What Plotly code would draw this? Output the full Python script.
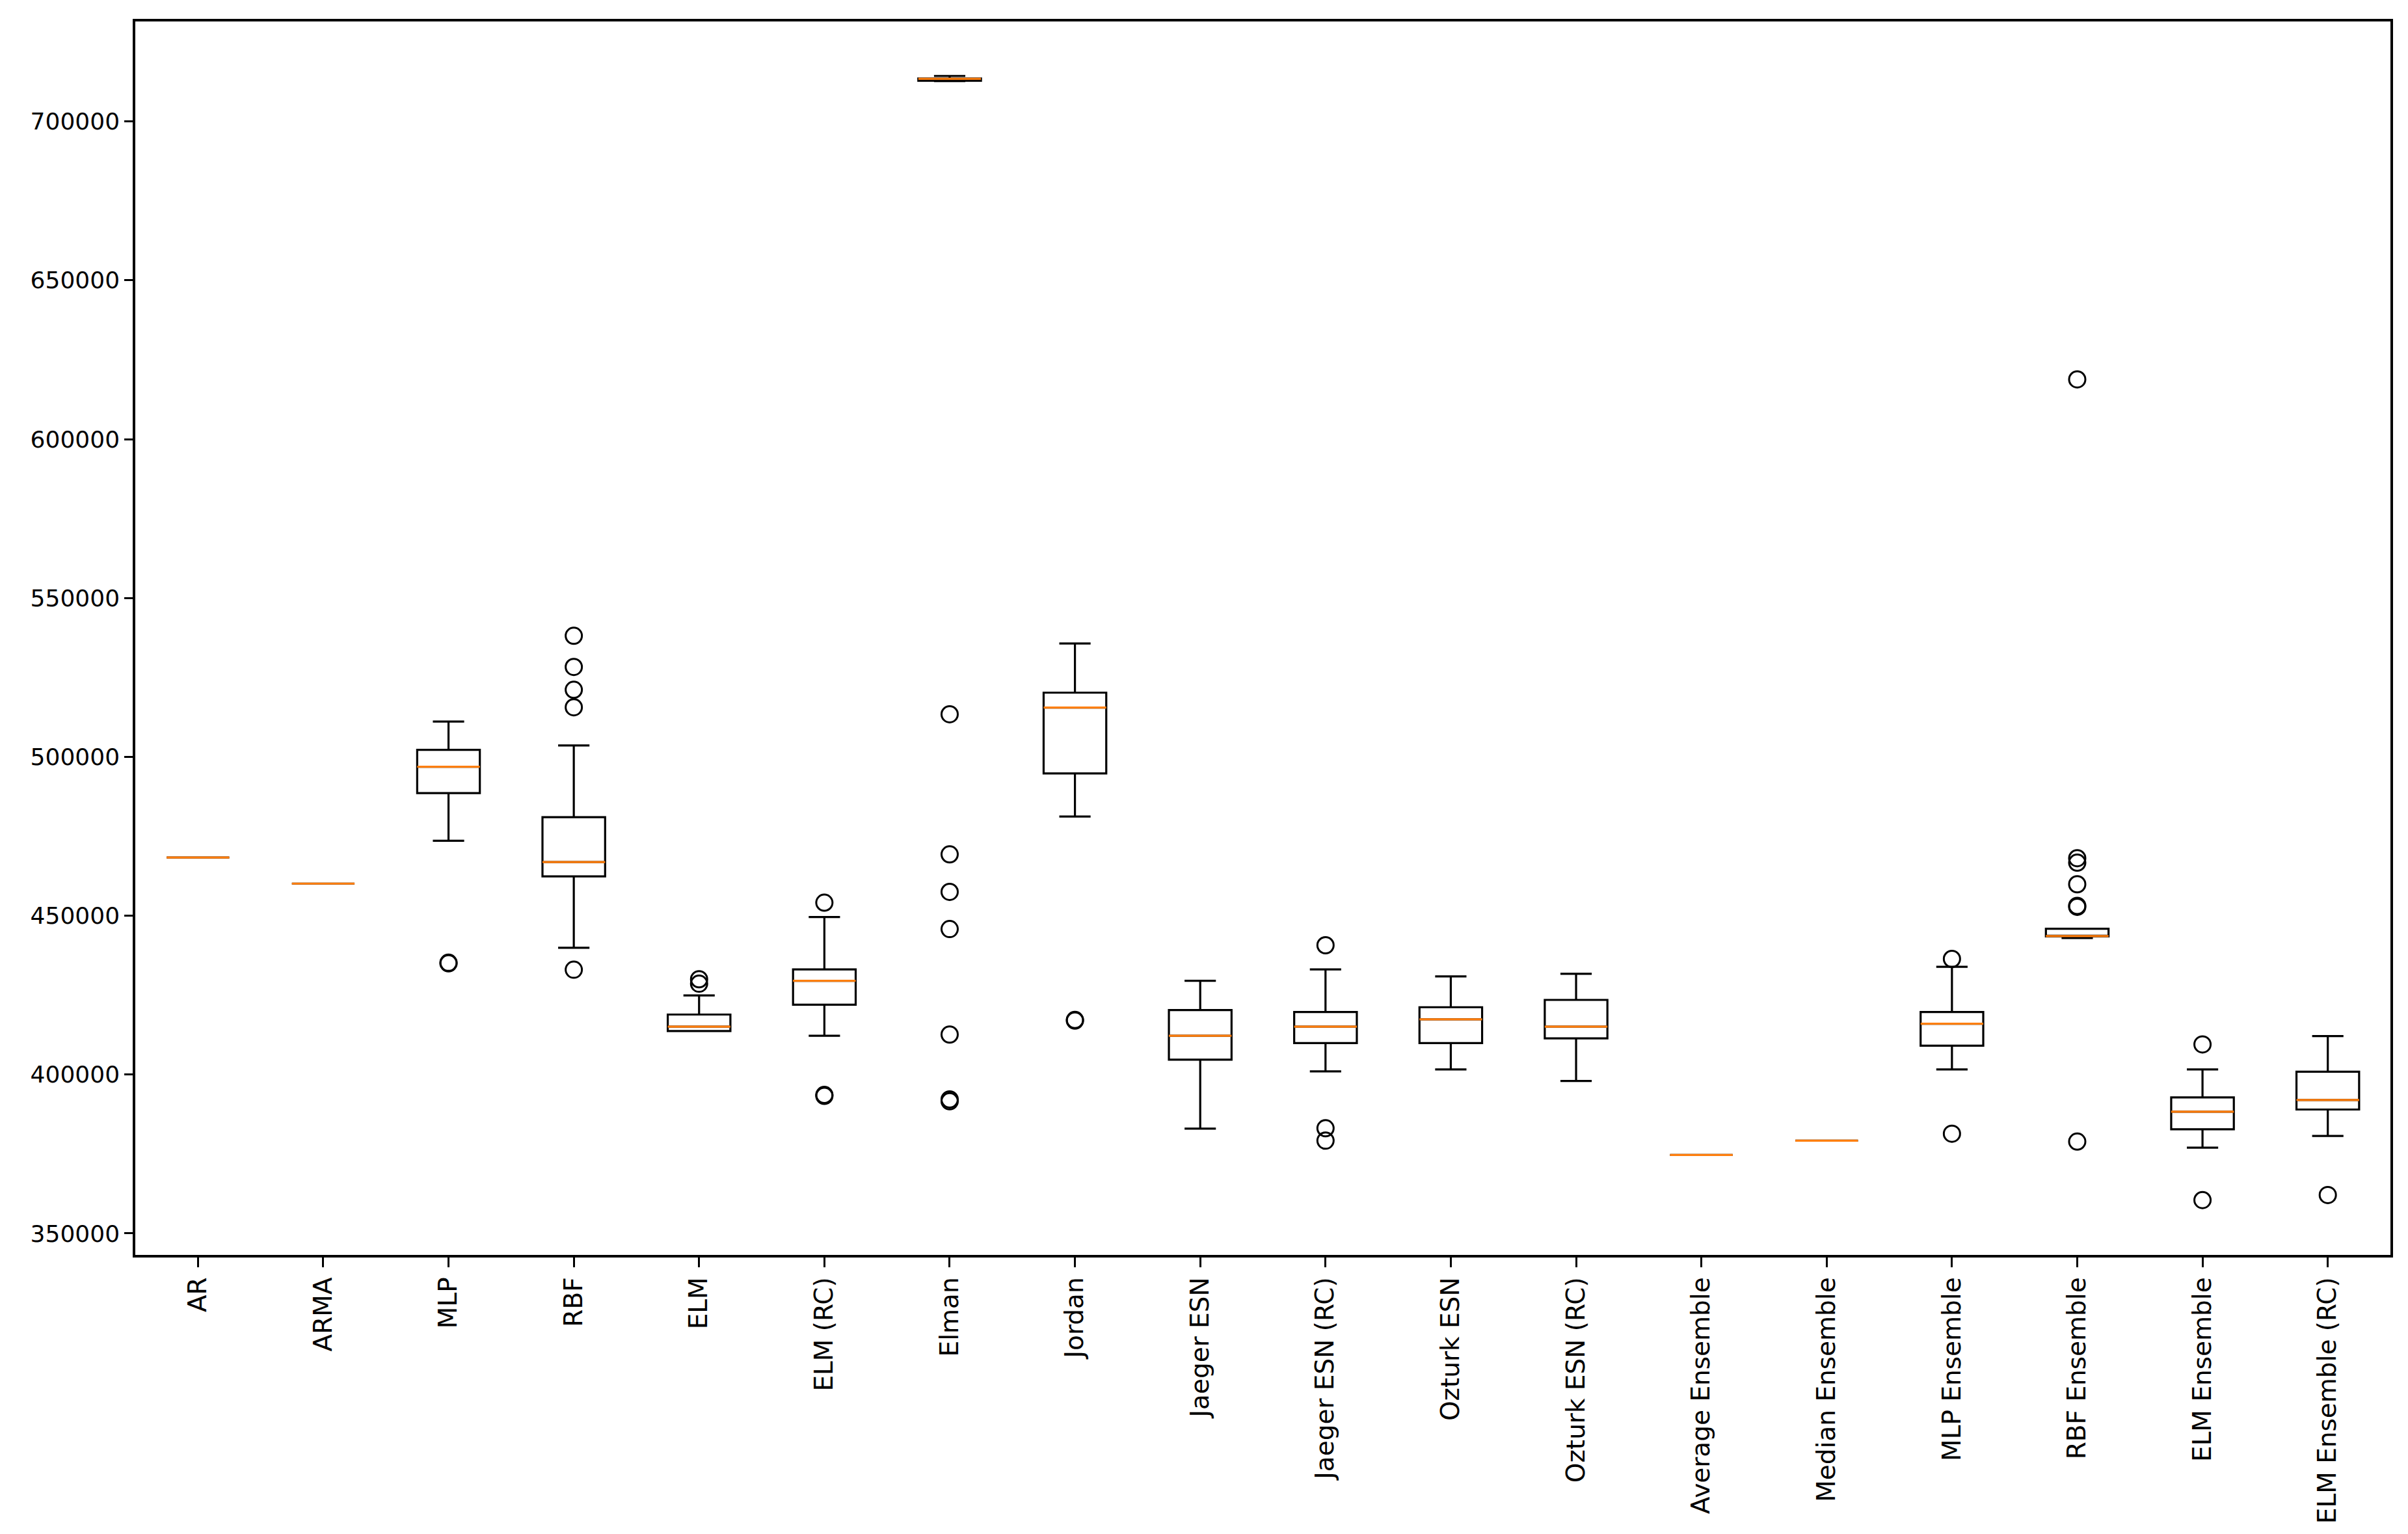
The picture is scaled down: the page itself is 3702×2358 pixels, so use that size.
import plotly.graph_objects as go

categories = ["AR", "ARMA", "MLP", "RBF", "ELM", "ELM (RC)", "Elman", "Jordan",
              "Jaeger ESN", "Jaeger ESN (RC)", "Ozturk ESN", "Ozturk ESN (RC)",
              "Average Ensemble", "Median Ensemble", "MLP Ensemble", "RBF Ensemble",
              "ELM Ensemble", "ELM Ensemble (RC)"]

lower_whisker = [468300, 460100, 473600, 439900, 413700, 412200, 712700, 481200,
                 383000, 401000, 401600, 398000, 374700, 379200, 401600, 442950,
                 377000, 380700]
q1_values = [468300, 460100, 488600, 462400, 413700, 422000, 712800, 494800,
             404700, 409900, 409900, 411400, 374700, 379200, 409100, 443500,
             382800, 389000]
median_values = [468300, 460100, 496900, 466900, 415100, 429500, 713400, 515500,
                 412200, 415100, 417400, 415100, 374700, 379200, 416000, 443600,
                 388300, 392000]
q3_values = [468300, 460100, 502200, 481000, 418900, 433100, 713500, 520200,
             420300, 419700, 421200, 423500, 374700, 379200, 419700, 445900,
             392800, 400900]
upper_whisker = [468300, 460100, 511100, 503600, 424900, 449600, 714300, 535700,
                 429500, 433100, 430900, 431700, 374700, 379200, 433900, 445900,
                 401600, 412100]

outliers = [
    [],
    [],
    [435000, 435200],
    [538100, 528300, 521100, 515600, 433000],
    [430000, 428600],
    [454100, 393300, 393600],
    [513400, 469300, 457500, 445800, 412600, 391600, 392200],
    [417000, 417200],
    [],
    [440700, 383100, 379200],
    [],
    [],
    [],
    [],
    [436400, 381400],
    [618800, 468100, 466700, 459900, 452800, 453100, 378900],
    [409500, 360500],
    [362100],
]

yfont = dict(family="DejaVu Sans", size=36, color="black")
xfont = dict(family="DejaVu Sans", size=39, color="black")

fig = go.Figure()

fig.add_trace(go.Box(
    x=categories, q1=q1_values, median=median_values, q3=q3_values,
    lowerfence=lower_whisker, upperfence=upper_whisker,
    width=0.5, whiskerwidth=0.5, boxpoints=False,
    line=dict(color="black", width=3.2), fillcolor="rgba(255,255,255,0)",
    hoverinfo="skip", showlegend=False,
))

fig.add_trace(go.Box(
    x=categories, q1=median_values, median=median_values, q3=median_values,
    lowerfence=median_values, upperfence=median_values,
    width=0.5, whiskerwidth=0, boxpoints=False,
    line=dict(color="#ff7f0e", width=3.2), fillcolor="rgba(255,255,255,0)",
    hoverinfo="skip", showlegend=False,
))

ox, oy = [], []
for cat, vals in zip(categories, outliers):
    for v in vals:
        ox.append(cat)
        oy.append(v)

fig.add_trace(go.Scatter(
    x=ox, y=oy, mode="markers",
    marker=dict(symbol="circle-open", size=25, color="black", line=dict(width=3)),
    showlegend=False, hoverinfo="skip",
))

fig.update_layout(
    width=3702, height=2358,
    margin=dict(l=200, r=35, t=25, b=437),
    paper_bgcolor="white", plot_bgcolor="white",
    boxmode="overlay",
    showlegend=False,
    font=yfont,
)

fig.update_xaxes(
    type="category", categoryorder="array", categoryarray=categories,
    range=[-0.5, len(categories) - 0.5],
    showline=True, mirror=True, linecolor="black", linewidth=3.5,
    ticks="outside", ticklen=15, tickwidth=3, tickcolor="black",
    tickangle=-90, tickfont=xfont, showgrid=False, zeroline=False,
)

fig.update_yaxes(
    range=[343240, 731450],
    tickvals=[350000, 400000, 450000, 500000, 550000, 600000, 650000, 700000],
    ticktext=["350000", "400000", "450000", "500000", "550000", "600000", "650000", "700000"],
    showline=True, mirror=True, linecolor="black", linewidth=3.5,
    ticks="outside", ticklen=13, tickwidth=3, tickcolor="black",
    tickfont=yfont, showgrid=False, zeroline=False,
)

fig.write_html("out.html")
